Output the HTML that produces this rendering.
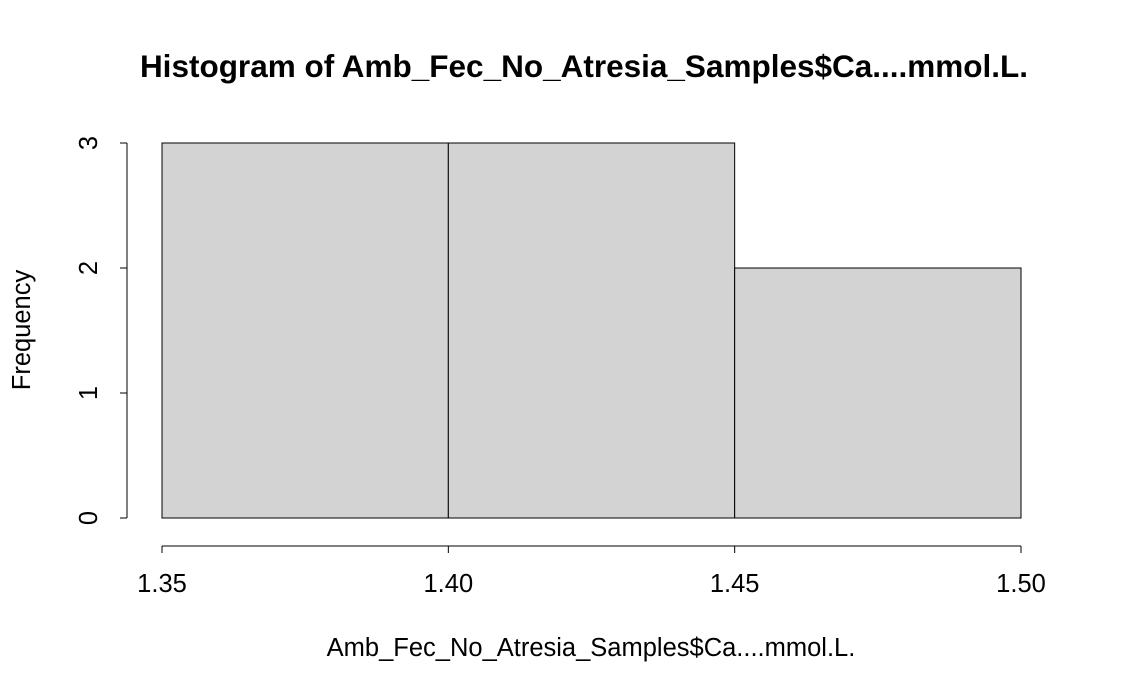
<!DOCTYPE html>
<html><head><meta charset="utf-8"><style>
body{margin:0;background:#fff}
svg{display:block;font-family:"Liberation Sans",Arial,sans-serif}
</style></head><body>
<svg id="chart" width="1121" height="693">
<text x="584" y="77" text-anchor="middle" font-size="31.5" font-weight="bold">Histogram of Amb_Fec_No_Atresia_Samples$Ca....mmol.L.</text>
<text x="591" y="656" text-anchor="middle" font-size="25.5">Amb_Fec_No_Atresia_Samples$Ca....mmol.L.</text>
<text transform="translate(30,330) rotate(-90)" text-anchor="middle" font-size="25.5">Frequency</text>
<g id="bars"></g><g id="xaxis"></g><g id="yaxis"></g>
</svg>
<script>
const binEdges=[1.35,1.40,1.45,1.50];
const counts=[3,3,2];
const xTicks=["1.35","1.40","1.45","1.50"];
const yTicks=[0,1,2,3];
const NS="http://www.w3.org/2000/svg";
function X(v){return 162+(v-1.35)/0.15*859;}
function Y(v){return 518-v*125;}
function mk(t,a,p){const e=document.createElementNS(NS,t);for(const k in a)e.setAttribute(k,a[k]);p.appendChild(e);return e;}
const bars=document.getElementById('bars');
counts.forEach((c,i)=>{
 const r=mk('rect',{x:X(binEdges[i]),y:Y(c),width:X(binEdges[i+1])-X(binEdges[i]),height:Y(0)-Y(c),fill:'#d3d3d3',stroke:'#000','stroke-width':1},bars);
 
 
});
const xa=document.getElementById('xaxis');
const xl=mk('line',{x1:X(1.35),x2:X(1.50),y1:546,y2:546,stroke:'#000'},xa);


xTicks.forEach(t=>{
 const v=parseFloat(t);
 mk('line',{x1:X(v),x2:X(v),y1:546,y2:553,stroke:'#000'},xa);
 const tx=mk('text',{x:X(v),y:592,'text-anchor':'middle','font-size':25.5},xa);
 tx.textContent=t;
 
 
});
const ya=document.getElementById('yaxis');
const yl=mk('line',{x1:127,x2:127,y1:Y(0),y2:Y(3),stroke:'#000'},ya);


yTicks.forEach(v=>{
 mk('line',{x1:120,x2:127,y1:Y(v),y2:Y(v),stroke:'#000'},ya);
 const tx=mk('text',{transform:`translate(97,${Y(v)}) rotate(-90)`,'text-anchor':'middle','font-size':25.5},ya);
 tx.textContent=v;
 
 
});
</script>
</body></html>
